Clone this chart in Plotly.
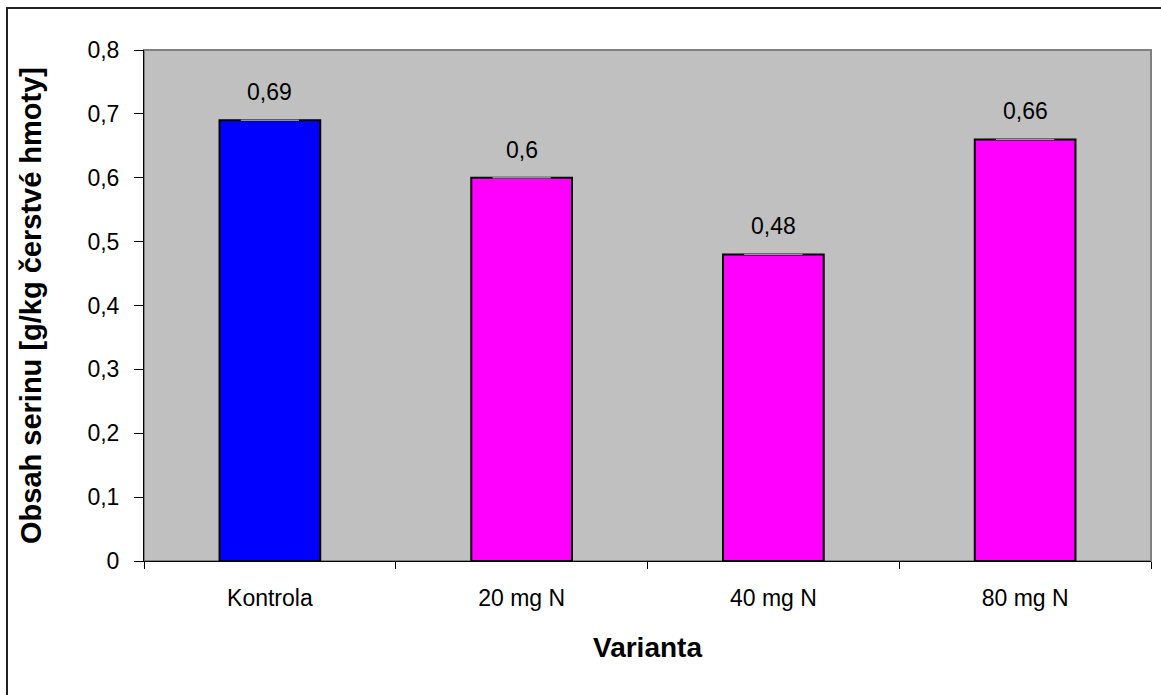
import plotly.graph_objects as go

categories = ["Kontrola", "20 mg N", "40 mg N", "80 mg N"]
values = [0.69, 0.6, 0.48, 0.66]
bar_colors = ["#0000FF", "#FF00FF", "#FF00FF", "#FF00FF"]
y_ticks = [0, 0.1, 0.2, 0.3, 0.4, 0.5, 0.6, 0.7, 0.8]
y_tick_labels = ["0", "0,1", "0,2", "0,3", "0,4", "0,5", "0,6", "0,7", "0,8"]

font_family = "Liberation Sans, Arial, sans-serif"

fig = go.Figure()
fig.add_trace(go.Bar(
    x=categories,
    y=values,
    marker=dict(color=bar_colors, line=dict(color="#000000", width=2)),
    error_y=dict(type="data", array=[0] * len(values), visible=True,
                 color="#9a9a9a", thickness=1, width=29),
    hoverinfo="x+y",
))

# value labels above each bar
for c, v in zip(categories, values):
    fig.add_annotation(
        x=c, y=v, text=f"{v:g}".replace(".", ","), showarrow=False,
        yshift=28, font=dict(family=font_family, size=23, color="#000000"),
    )

# outer chart frame
W, H = 1161, 695
ml, mr, mt, mb = 144, 10, 50, 134
pw, ph = W - ml - mr, H - mt - mb
fig.add_shape(
    type="rect", xref="paper", yref="paper",
    x0=(7 - ml) / pw, x1=(W + 20 - ml) / pw,
    y0=-(H + 20 - mt - ph) / ph, y1=(H - mb - 8) / ph,
    line=dict(color="#222222", width=2), fillcolor="rgba(0,0,0,0)", layer="below",
)

fig.update_layout(
    width=W, height=H,
    margin=dict(l=ml, r=mr, t=mt, b=mb),
    paper_bgcolor="#FFFFFF",
    plot_bgcolor="#C0C0C0",
    bargap=0.6,
    showlegend=False,
    font=dict(family=font_family, color="#000000"),
    xaxis=dict(
        type="category",
        tickson="boundaries",
        ticks="outside", ticklen=7, tickcolor="#000000", tickwidth=1,
        showline=True, linecolor="#000000", linewidth=1,
        mirror=False,
        showgrid=False,
        tickfont=dict(family=font_family, size=23),
        ticklabelstandoff=16,
        title=dict(text="<b>Varianta</b>", font=dict(family=font_family, size=28), standoff=27),
    ),
    yaxis=dict(
        range=[0, 0.8],
        tickvals=y_ticks, ticktext=y_tick_labels,
        ticks="outside", ticklen=9, tickcolor="#000000", tickwidth=1,
        showline=True, linecolor="#000000", linewidth=1,
        showgrid=False, zeroline=False,
        tickfont=dict(family=font_family, size=23),
        ticklabelstandoff=10,
        title=dict(text="<b>Obsah serinu [g/kg čerstvé hmoty]</b>",
                   font=dict(family=font_family, size=29), standoff=37),
    ),
)

# grey border around the plot area (top and right)
fig.add_shape(type="rect", xref="paper", yref="paper", x0=0, x1=1, y0=0, y1=1,
              line=dict(color="#808080", width=2), layer="below")

fig.write_html("out.html")
